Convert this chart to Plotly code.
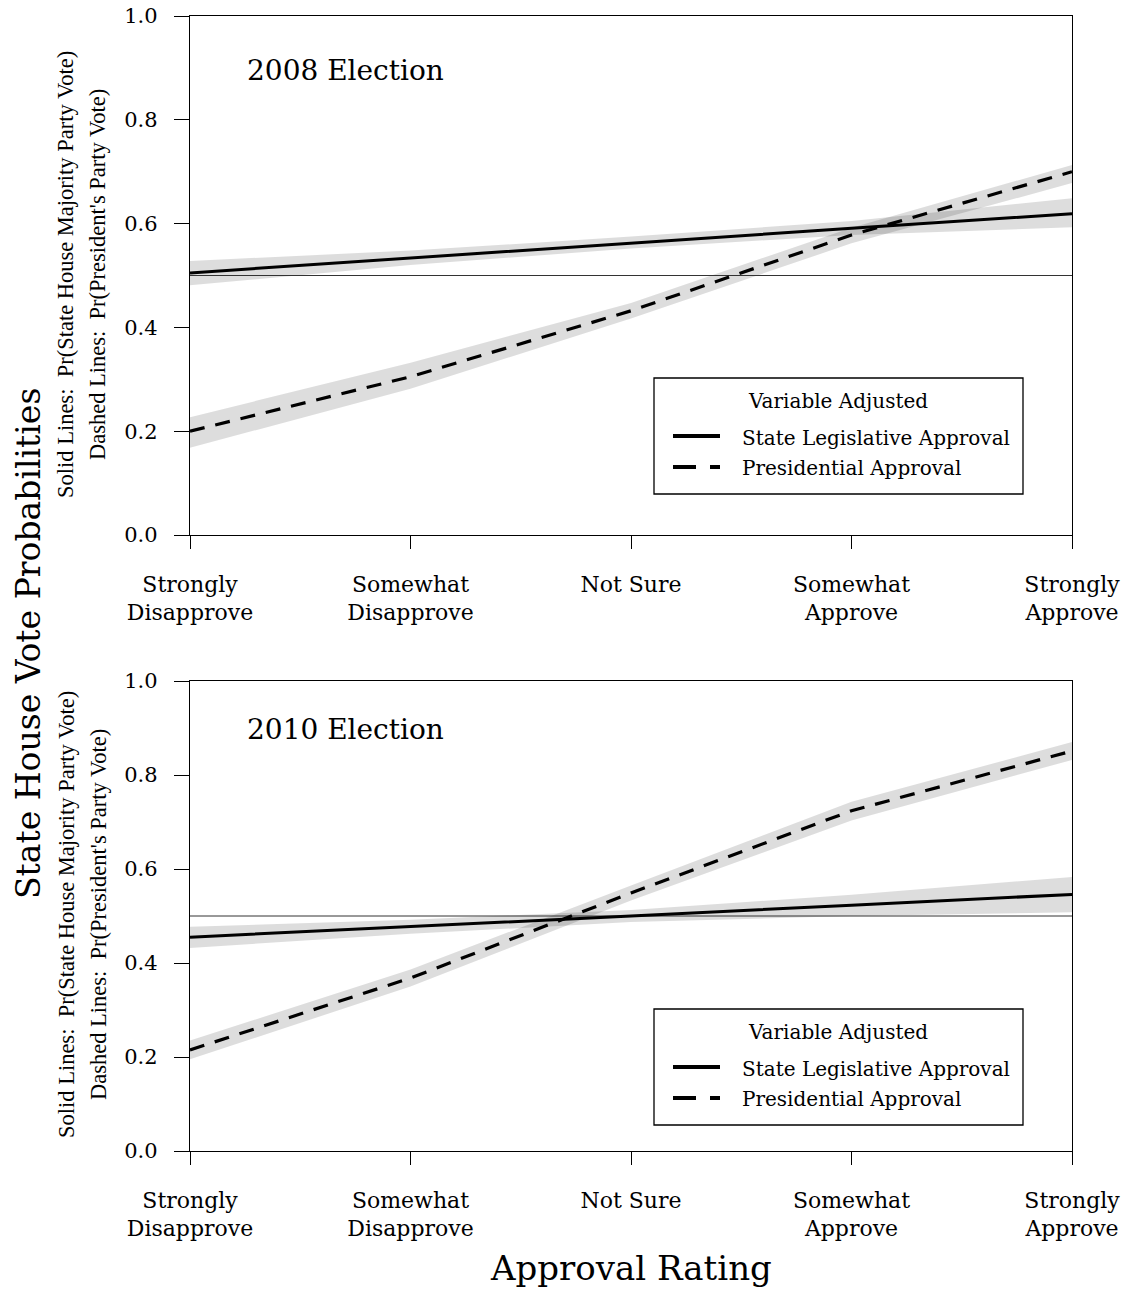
import plotly.graph_objects as go

# ---- data -------------------------------------------------------------
approval_levels = [1, 2, 3, 4, 5]
approval_labels = ["Strongly<br>Disapprove", "Somewhat<br>Disapprove", "Not Sure",
                   "Somewhat<br>Approve", "Strongly<br>Approve"]
y_ticks = [0.0, 0.2, 0.4, 0.6, 0.8, 1.0]

# 2008 election
leg_2008 = [0.505, 0.534, 0.563, 0.591, 0.619]
leg_2008_lo = [0.481, 0.520, 0.552, 0.578, 0.593]
leg_2008_hi = [0.528, 0.548, 0.575, 0.605, 0.649]
pres_2008 = [0.200, 0.305, 0.432, 0.578, 0.700]
pres_2008_lo = [0.168, 0.282, 0.417, 0.562, 0.678]
pres_2008_hi = [0.227, 0.332, 0.447, 0.592, 0.713]

# 2010 election
leg_2010 = [0.455, 0.477, 0.500, 0.523, 0.546]
leg_2010_lo = [0.432, 0.462, 0.487, 0.500, 0.508]
leg_2010_hi = [0.477, 0.492, 0.513, 0.545, 0.583]
pres_2010 = [0.215, 0.368, 0.549, 0.724, 0.851]
pres_2010_lo = [0.195, 0.350, 0.533, 0.703, 0.832]
pres_2010_hi = [0.235, 0.386, 0.565, 0.743, 0.870]

panel_titles = ["2008 Election", "2010 Election"]
legend_title = "Variable Adjusted"
legend_items = ["State Legislative Approval", "Presidential Approval"]
reference_level = 0.5

# ---- layout helpers ---------------------------------------------------
W, H = 1126, 1289
SERIF = "DejaVu Serif"
NARROW = "Liberation Serif"


def px(x):
    return x / W


def py(y):
    return 1 - y / H


fig = go.Figure()

panels = [
    dict(xa="x", ya="y", leg=(leg_2008, leg_2008_lo, leg_2008_hi),
         pres=(pres_2008, pres_2008_lo, pres_2008_hi)),
    dict(xa="x2", ya="y2", leg=(leg_2010, leg_2010_lo, leg_2010_hi),
         pres=(pres_2010, pres_2010_lo, pres_2010_hi)),
]

band_color = "rgba(0,0,0,0.135)"

for p in panels:
    # confidence bands
    for mean, lo, hi in (p["leg"], p["pres"]):
        fig.add_trace(go.Scatter(
            x=approval_levels + approval_levels[::-1], y=hi + lo[::-1],
            fill="toself", fillcolor=band_color, line=dict(width=0),
            mode="lines", hoverinfo="skip", showlegend=False,
            xaxis=p["xa"], yaxis=p["ya"]))
    # 0.5 reference line
    fig.add_trace(go.Scatter(
        x=[approval_levels[0], approval_levels[-1]], y=[reference_level] * 2,
        mode="lines", line=dict(color="#333333", width=1),
        hoverinfo="skip", showlegend=False, xaxis=p["xa"], yaxis=p["ya"]))
    # predicted probabilities
    fig.add_trace(go.Scatter(
        x=approval_levels, y=p["leg"][0], mode="lines",
        line=dict(color="black", width=3), showlegend=False,
        xaxis=p["xa"], yaxis=p["ya"]))
    fig.add_trace(go.Scatter(
        x=approval_levels, y=p["pres"][0], mode="lines",
        line=dict(color="black", width=3.2, dash="15px,11px"), showlegend=False,
        xaxis=p["xa"], yaxis=p["ya"]))

x_dom = [px(190), px(1072)]
y_doms = [[py(535), py(16)], [py(1151), py(681)]]

axis_common = dict(showline=True, linecolor="black", linewidth=1.3, mirror=True,
                   showgrid=False, zeroline=False, ticks="outside",
                   tickcolor="black", tickwidth=1.3, automargin=False)

for i, suffix in enumerate(["", "2"]):
    fig.layout["xaxis" + suffix] = dict(
        axis_common, domain=x_dom, range=[1, 5], anchor="y" + suffix,
        tickvals=approval_levels, ticktext=approval_labels, ticklen=13,
        tickfont=dict(family=SERIF, size=22, color="black"),
        ticklabelstandoff=16)
    fig.layout["yaxis" + suffix] = dict(
        axis_common, domain=y_doms[i], range=[0, 1], anchor="x" + suffix,
        tickvals=y_ticks, ticktext=[f"{v:.1f}" for v in y_ticks], ticklen=15,
        tickfont=dict(family=SERIF, size=21, color="black"),
        ticklabelstandoff=12)

shapes = []
annotations = []

# legend boxes drawn inside each panel
for dy in (0, 631):
    shapes.append(dict(type="rect", xref="paper", yref="paper",
                       x0=px(654), x1=px(1023), y0=py(378 + dy), y1=py(494 + dy),
                       line=dict(color="black", width=1.3), fillcolor="white", layer="above"))
    shapes.append(dict(type="line", xref="paper", yref="paper",
                       x0=px(673), x1=px(720), y0=py(436 + dy), y1=py(436 + dy),
                       line=dict(color="black", width=4), layer="above"))
    shapes.append(dict(type="line", xref="paper", yref="paper",
                       x0=px(673), x1=px(720), y0=py(467 + dy), y1=py(467 + dy),
                       line=dict(color="black", width=4, dash="23px,14px,10px"), layer="above"))
    annotations.append(dict(text=legend_title, x=px(838), y=py(401 + dy),
                            xref="paper", yref="paper", showarrow=False,
                            xanchor="center", yanchor="middle",
                            font=dict(family=SERIF, size=20, color="black")))
    for k, label in enumerate(legend_items):
        annotations.append(dict(text=label, x=px(740), y=py(438 + 30 * k + dy),
                                xref="paper", yref="paper", showarrow=False,
                                xanchor="left", yanchor="middle",
                                font=dict(family=SERIF, size=20, color="black")))

# panel titles
for title, yc in zip(panel_titles, (70, 729)):
    annotations.append(dict(text=title, x=px(245), y=py(yc), xref="paper", yref="paper",
                            showarrow=False, xanchor="left", yanchor="middle",
                            font=dict(family=SERIF, size=28, color="black")))

# per-panel axis descriptions
for yc in (275, 915):
    annotations.append(dict(text="Solid Lines:\u00a0 Pr(State House Majority Party Vote)",
                            x=px(66), y=py(yc), xref="paper", yref="paper",
                            showarrow=False, textangle=-90, xanchor="center", yanchor="middle",
                            font=dict(family=NARROW, size=22.5, color="black")))
    annotations.append(dict(text="Dashed Lines:\u00a0 Pr(President's Party Vote)",
                            x=px(98), y=py(yc), xref="paper", yref="paper",
                            showarrow=False, textangle=-90, xanchor="center", yanchor="middle",
                            font=dict(family=NARROW, size=22.5, color="black")))

# overall axis titles
annotations.append(dict(text="State House Vote Probabilities", x=px(28), y=py(644),
                        xref="paper", yref="paper", showarrow=False, textangle=-90,
                        xanchor="center", yanchor="middle",
                        font=dict(family=SERIF, size=33, color="black")))
annotations.append(dict(text="Approval Rating", x=px(631), y=py(1268),
                        xref="paper", yref="paper", showarrow=False,
                        xanchor="center", yanchor="middle",
                        font=dict(family=SERIF, size=34, color="black")))

fig.update_layout(width=W, height=H, autosize=False,
                  margin=dict(l=0, r=0, t=0, b=0, autoexpand=False),
                  paper_bgcolor="white", plot_bgcolor="white",
                  shapes=shapes, annotations=annotations, showlegend=False)

fig.write_html("out.html")
